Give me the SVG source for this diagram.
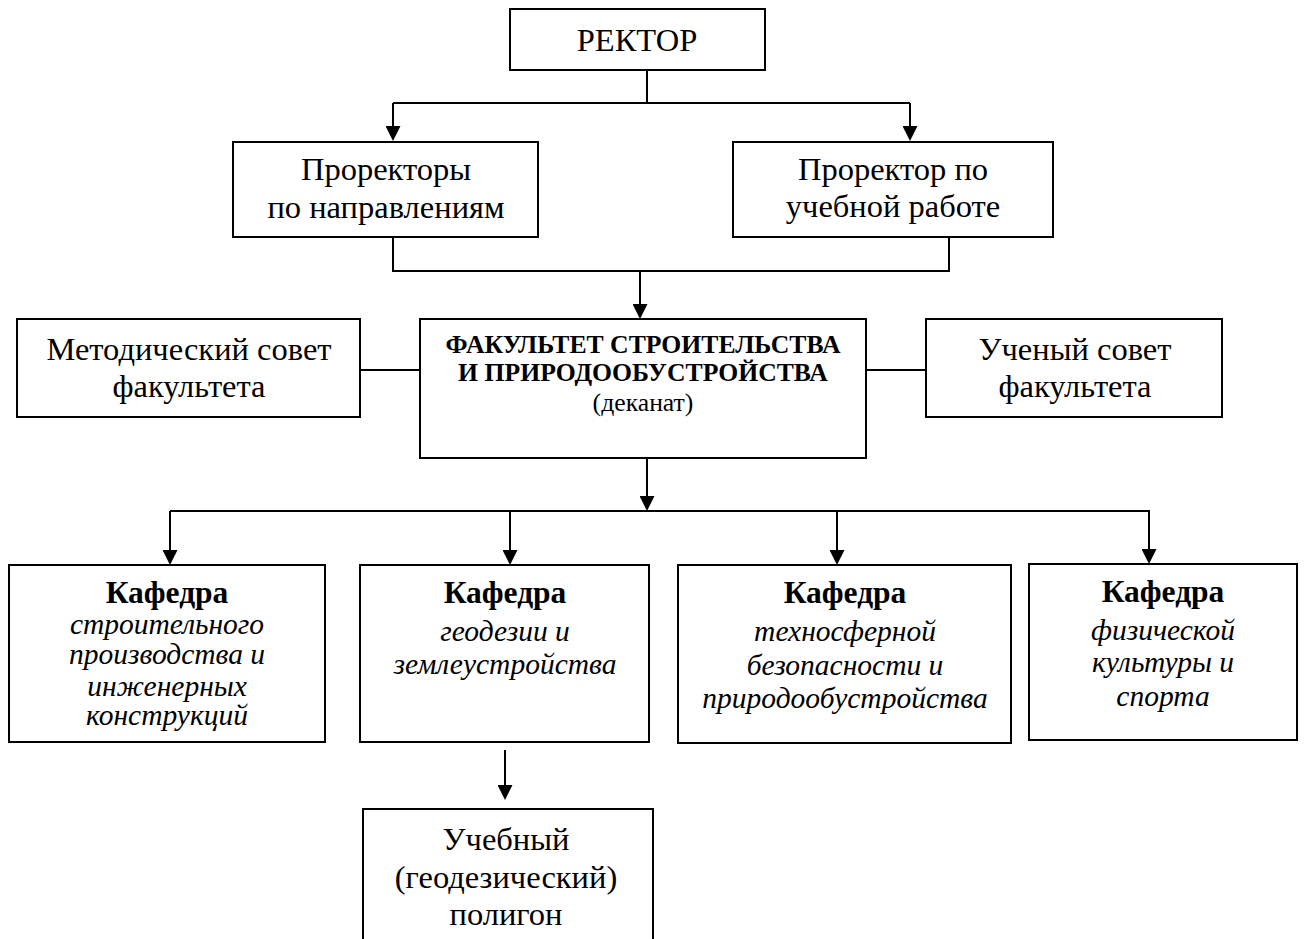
<svg xmlns="http://www.w3.org/2000/svg" width="1304" height="939" viewBox="0 0 1304 939">
<style>
.box{fill:#fff;stroke:#000;stroke-width:2}
.t{font-family:"Liberation Serif","Times New Roman",serif;font-size:32.5px;text-anchor:middle;fill:#000}
.tb{font-family:"Liberation Serif","Times New Roman",serif;font-size:25.7px;font-weight:bold;text-anchor:middle;fill:#000}
.ts{font-family:"Liberation Serif","Times New Roman",serif;font-size:25.7px;text-anchor:middle;fill:#000}
.kb{font-family:"Liberation Serif","Times New Roman",serif;font-size:31.5px;font-weight:bold;text-anchor:middle;fill:#000}
.ki{font-family:"Liberation Serif","Times New Roman",serif;font-size:29.5px;font-style:italic;text-anchor:middle;fill:#000}
.c{fill:none;stroke:#000;stroke-width:2}
.a{fill:none;stroke:#000;stroke-width:2;marker-end:url(#arr)}
</style>
<defs>
<marker id="arr" viewBox="0 0 15 15" markerWidth="15" markerHeight="15" refX="13" refY="7.5" orient="auto" markerUnits="userSpaceOnUse">
<path d="M0,0 L15,7.5 L0,15 z" fill="#000"/>
</marker>
</defs>
<g id="connectors">
<path class="c" d="M647,70 V103 M393,103 H910"/>
<path class="a" d="M393,103 V139"/>
<path class="a" d="M910,103 V139"/>
<path class="c" d="M393,237 V271 H949 V237"/>
<path class="a" d="M640,271 V317"/>
<path class="c" d="M360,370 H420 M866,370 H926"/>
<path class="a" d="M647,458 V509"/>
<path class="c" d="M170,511 H1150"/>
<path class="a" d="M170,511 V563"/>
<path class="a" d="M510,511 V563"/>
<path class="a" d="M837,511 V563"/>
<path class="a" d="M1149,511 V562"/>
<path class="a" d="M505,750 V798"/>
</g>
<g id="rector">
<rect class="box" x="510" y="9" width="255" height="61"/>
<text class="t" x="637" y="51">РЕКТОР</text>
</g>
<g id="prorectors">
<rect class="box" x="233" y="142" width="305" height="95"/>
<text class="t" x="386" y="180">Проректоры</text>
<text class="t" x="386" y="218">по направлениям</text>
</g>
<g id="prorector-study">
<rect class="box" x="733" y="142" width="320" height="95"/>
<text class="t" x="893" y="180">Проректор по</text>
<text class="t" x="893" y="217">учебной работе</text>
</g>
<g id="method-council">
<rect class="box" x="17" y="319" width="343" height="98"/>
<text class="t" x="189" y="360">Методический совет</text>
<text class="t" x="189" y="397">факультета</text>
</g>
<g id="faculty">
<rect class="box" x="420" y="319" width="446" height="139"/>
<text class="tb" x="643" y="353">ФАКУЛЬТЕТ СТРОИТЕЛЬСТВА</text>
<text class="tb" x="643" y="381">И ПРИРОДООБУСТРОЙСТВА</text>
<text class="ts" x="643" y="411">(деканат)</text>
</g>
<g id="academic-council">
<rect class="box" x="926" y="319" width="296" height="98"/>
<text class="t" x="1075" y="360">Ученый совет</text>
<text class="t" x="1075" y="397">факультета</text>
</g>
<g id="dept-construction">
<rect class="box" x="9" y="565" width="316" height="177"/>
<text class="kb" x="167" y="603">Кафедра</text>
<text class="ki" x="167" y="634">строительного</text>
<text class="ki" x="167" y="664">производства и</text>
<text class="ki" x="167" y="696">инженерных</text>
<text class="ki" x="167" y="725">конструкций</text>
</g>
<g id="dept-geodesy">
<rect class="box" x="360" y="565" width="289" height="177"/>
<text class="kb" x="505" y="603">Кафедра</text>
<text class="ki" x="505" y="641">геодезии и</text>
<text class="ki" x="505" y="674">землеустройства</text>
</g>
<g id="dept-technosphere">
<rect class="box" x="678" y="565" width="333" height="178"/>
<text class="kb" x="845" y="603">Кафедра</text>
<text class="ki" x="845" y="641">техносферной</text>
<text class="ki" x="845" y="675">безопасности и</text>
<text class="ki" x="845" y="708">природообустройства</text>
</g>
<g id="dept-sport">
<rect class="box" x="1029" y="564" width="268" height="176"/>
<text class="kb" x="1163" y="602">Кафедра</text>
<text class="ki" x="1163" y="640">физической</text>
<text class="ki" x="1163" y="672">культуры и</text>
<text class="ki" x="1163" y="706">спорта</text>
</g>
<g id="polygon">
<rect class="box" x="363" y="809" width="290" height="140"/>
<text class="t" x="506" y="850">Учебный</text>
<text class="t" x="506" y="888">(геодезический)</text>
<text class="t" x="506" y="925">полигон</text>
</g>
</svg>
